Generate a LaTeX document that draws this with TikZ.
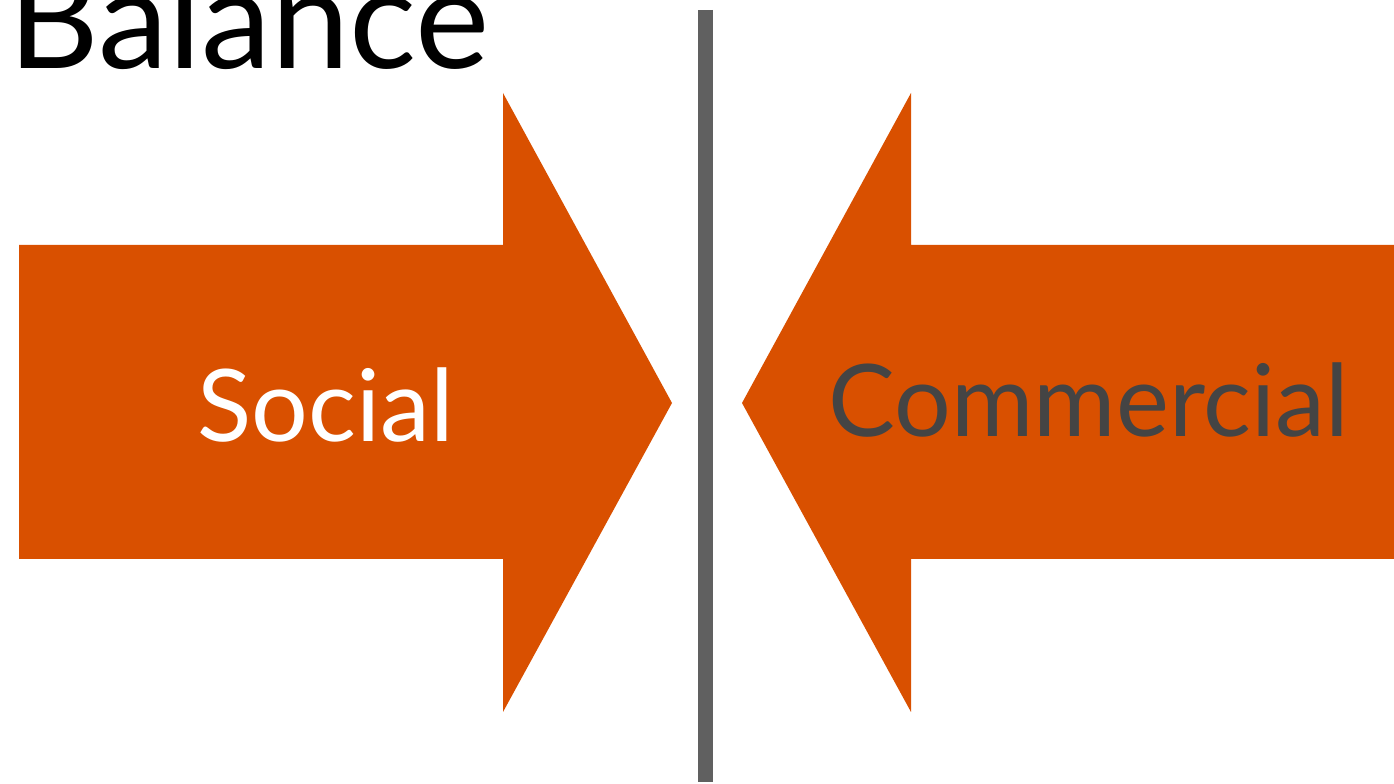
\documentclass[tikz,border=0pt]{standalone}
\usepackage{fontspec}
\setmainfont{Lato}
\usetikzlibrary{positioning}
\definecolor{orange1}{RGB}{217, 80, 0}
\definecolor{gray1}{RGB}{96, 96, 96}
\definecolor{gray2}{RGB}{68, 68, 68}

\begin{document}
\begin{tikzpicture}[
    bigarrow/.style={fill=orange1, draw=none},
    label/.style={inner sep=0pt, font=\fontsize{57}{60}\selectfont}
  ]
  \useasboundingbox (0,0) rectangle (27.88,15.68);
  % the two arrows
  \fill[bigarrow] (0.38,10.78) -- (10.06,10.78) -- (10.06,13.82) -- (13.44,7.62)
    -- (10.06,1.44) -- (10.06,4.5) -- (0.38,4.5) -- cycle;
  \fill[bigarrow] (27.88,10.78) -- (18.22,10.78) -- (18.22,13.82) -- (14.84,7.62)
    -- (18.22,1.44) -- (18.22,4.5) -- (27.88,4.5) -- cycle;
  % divider
  \coordinate (top) at (14.11,15.48);
  \coordinate (bottom) at (14.11,0.04);
  \draw[gray1, line width=0.3cm] (top) -- (bottom);
  % labels
  \node[label, anchor=base, text=white] (social) at (6.51,6.84) {Social};
  \node[label, anchor=base, text=gray2] (commercial) at (21.77,6.94) {Commercial};
  \node[inner sep=0pt, anchor=base east, font=\fontsize{80}{84}\selectfont] (title) at (9.8,14.3) {Balance};
\end{tikzpicture}
\end{document}
